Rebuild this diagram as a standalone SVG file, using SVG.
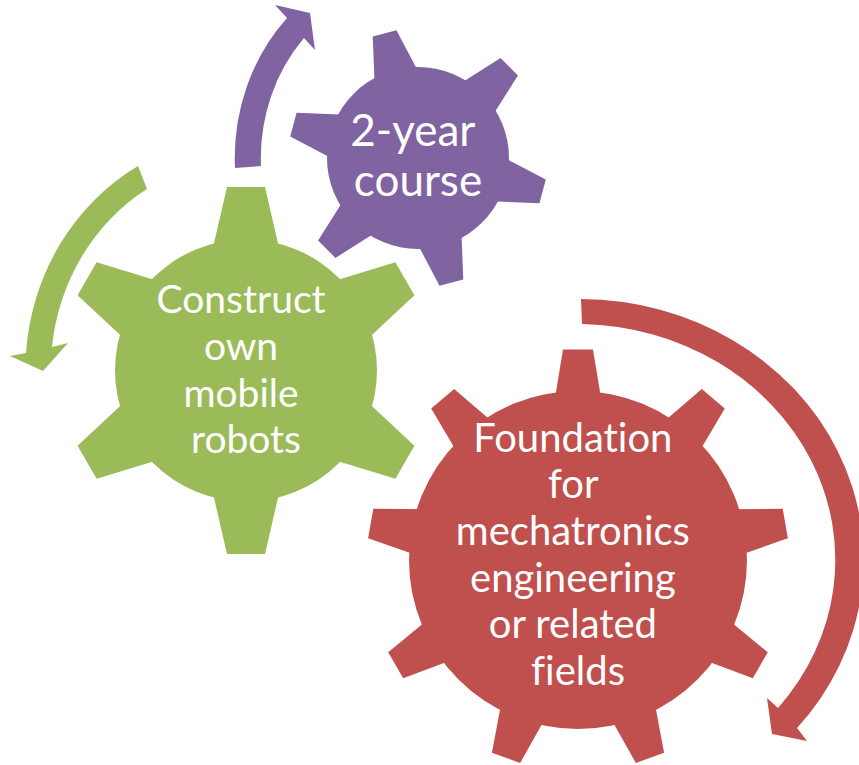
<svg xmlns="http://www.w3.org/2000/svg" width="859" height="765" viewBox="0 0 859 765">
  <style>
    .green { fill: #9BBB59; }
    .purple { fill: #8064A2; }
    .red { fill: #C0504D; }
    .label { fill: #FFFFFF; font-family: Lato, "Open Sans", "Liberation Sans", sans-serif; text-anchor: middle; font-variant-ligatures: none; }
  </style>
  <defs>
    <polygon id="tooth-green" points="-19,-183.5 19,-183.5 36,-110 -36,-110"/>
    <polygon id="tooth-purple" points="-12.3,-129 12.3,-129 24.5,-75 -24.5,-75"/>
    <polygon id="tooth-red" points="-15,-210.5 15,-210.5 25,-150 -25,-150"/>
  </defs>
  <rect width="859" height="765" fill="#FFFFFF"/>

  <g id="gear-red" class="red">
    <circle cx="578" cy="560" r="169"/>
    <use href="#tooth-red" transform="translate(578 560) rotate(0)"/>
    <use href="#tooth-red" transform="translate(578 560) rotate(40)"/>
    <use href="#tooth-red" transform="translate(578 560) rotate(80)"/>
    <use href="#tooth-red" transform="translate(578 560) rotate(120)"/>
    <use href="#tooth-red" transform="translate(578 560) rotate(160)"/>
    <use href="#tooth-red" transform="translate(578 560) rotate(200)"/>
    <use href="#tooth-red" transform="translate(578 560) rotate(240)"/>
    <use href="#tooth-red" transform="translate(578 560) rotate(280)"/>
    <use href="#tooth-red" transform="translate(578 560) rotate(320)"/>
    <text class="label" font-size="40">
      <tspan x="578" y="452">Foundation</tspan>
      <tspan x="578" y="498">for</tspan>
      <tspan x="578" y="545">mechatronics</tspan>
      <tspan x="578" y="592">engineering</tspan>
      <tspan x="578" y="638">or related</tspan>
      <tspan x="578" y="685">fields</tspan>
    </text>
  </g>

  <g id="gear-green" class="green">
    <circle cx="246" cy="370.5" r="131"/>
    <use href="#tooth-green" transform="translate(246 370.5) rotate(0)"/>
    <use href="#tooth-green" transform="translate(246 370.5) rotate(60)"/>
    <use href="#tooth-green" transform="translate(246 370.5) rotate(120)"/>
    <use href="#tooth-green" transform="translate(246 370.5) rotate(180)"/>
    <use href="#tooth-green" transform="translate(246 370.5) rotate(240)"/>
    <use href="#tooth-green" transform="translate(246 370.5) rotate(300)"/>
    <text class="label" font-size="39">
      <tspan x="246" y="313">Construct</tspan>
      <tspan x="246" y="360">own</tspan>
      <tspan x="246" y="407">mobile</tspan>
      <tspan x="246" y="453">robots</tspan>
    </text>
  </g>

  <g id="gear-purple" class="purple">
    <circle cx="418" cy="158" r="91"/>
    <use href="#tooth-purple" transform="translate(418 158) rotate(-15)"/>
    <use href="#tooth-purple" transform="translate(418 158) rotate(45)"/>
    <use href="#tooth-purple" transform="translate(418 158) rotate(105)"/>
    <use href="#tooth-purple" transform="translate(418 158) rotate(165)"/>
    <use href="#tooth-purple" transform="translate(418 158) rotate(225)"/>
    <use href="#tooth-purple" transform="translate(418 158) rotate(285)"/>
    <text class="label" font-size="44">
      <tspan x="418" y="146">2-year</tspan>
      <tspan x="418" y="196">course</tspan>
    </text>
  </g>

  <g id="connectors">
    <path id="arrow-purple" class="purple" d="M 235,168 A 183 200 0 0 1 287,18 L 275,5 L 310,13 L 315,50 L 304,38 A 157 174.5 0 0 0 261,166 Z"/>
    <path id="arrow-green" class="green" d="M 138,166 A 221 234 0 0 0 26,353 L 10,356 L 43,371 L 68,343 L 52,347 A 195.5 210 0 0 1 147,189 Z"/>
    <path id="arrow-red" class="red" d="M 581,299 A 284 261 0 0 1 797,728 L 807,741 L 772,734 L 767,698 L 778,708 A 259 236 0 0 0 582,324 Z"/>
  </g>
</svg>
